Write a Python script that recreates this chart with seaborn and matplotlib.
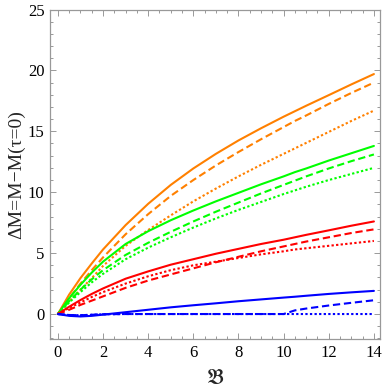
import numpy as np
import pandas as pd
import matplotlib
matplotlib.use("Agg")
import matplotlib.pyplot as plt
import seaborn as sns
from matplotlib.ticker import MultipleLocator

# data
b_vals = [0, 0.5, 1, 1.5, 2, 3, 4, 5, 6, 7, 8, 9, 10, 10.5, 11, 12, 13, 14]

orange_solid  = [0, 1.6, 2.95, 4.15, 5.3, 7.3, 9.05, 10.6, 11.95, 13.15, 14.25, 15.25, 16.2, 16.65, 17.1, 17.97, 18.85, 19.7]
orange_dashed = [0, 1.3, 2.5, 3.6, 4.65, 6.55, 8.2, 9.7, 11.0, 12.2, 13.3, 14.35, 15.35, 15.85, 16.3, 17.25, 18.15, 19.0]
orange_dotted = [0, 1.05, 2.0, 2.95, 3.95, 5.6, 6.9, 8.1, 9.25, 10.3, 11.3, 12.25, 13.15, 13.6, 14.05, 14.95, 15.85, 16.7]
green_solid   = [0, 1.3, 2.4, 3.4, 4.3, 5.75, 6.8, 7.7, 8.5, 9.25, 9.95, 10.65, 11.3, 11.65, 11.95, 12.6, 13.2, 13.8]
green_dashed  = [0, 1.05, 2.0, 2.85, 3.6, 4.85, 5.85, 6.75, 7.6, 8.4, 9.15, 9.9, 10.6, 10.95, 11.3, 11.95, 12.55, 13.1]
green_dotted  = [0, 0.95, 1.8, 2.6, 3.3, 4.5, 5.45, 6.3, 7.1, 7.85, 8.55, 9.2, 9.85, 10.15, 10.45, 11.0, 11.5, 12.0]
red_solid     = [0, 0.6, 1.15, 1.65, 2.1, 2.9, 3.5, 4.05, 4.5, 4.95, 5.35, 5.75, 6.1, 6.3, 6.5, 6.87, 7.25, 7.6]
red_dashed    = [0, 0.35, 0.75, 1.1, 1.45, 2.15, 2.75, 3.25, 3.75, 4.25, 4.7, 5.15, 5.55, 5.75, 5.95, 6.3, 6.65, 6.95]
red_dotted    = [0, 0.5, 0.95, 1.4, 1.8, 2.5, 3.1, 3.6, 4.0, 4.3, 4.6, 4.9, 5.15, 5.3, 5.4, 5.6, 5.8, 6.0]
blue_solid    = [0, -0.15, -0.2, -0.15, -0.05, 0.15, 0.35, 0.55, 0.72, 0.88, 1.05, 1.2, 1.35, 1.42, 1.5, 1.65, 1.78, 1.9]
blue_dashed   = [0, -0.08, -0.1, -0.06, -0.02, 0, 0, 0, 0, 0, 0, 0, 0, 0.3, 0.45, 0.7, 0.92, 1.13]
blue_dotted   = [0, -0.08, -0.1, -0.06, -0.02, 0, 0, 0, 0, 0, 0, 0, 0, 0, 0, 0, 0, 0]

ORANGE, GREEN, RED, BLUE = "#FF8000", "#00FF00", "#FF0000", "#0000FF"
SOLID, DASHED, DOTTED = "-", (0, (3.5, 1.8)), (0, (1.1, 1.1))

curves = [
    (orange_solid, ORANGE, SOLID), (orange_dashed, ORANGE, DASHED), (orange_dotted, ORANGE, DOTTED),
    (green_solid, GREEN, SOLID), (green_dashed, GREEN, DASHED), (green_dotted, GREEN, DOTTED),
    (red_solid, RED, SOLID), (red_dashed, RED, DASHED), (red_dotted, RED, DOTTED),
    (blue_solid, BLUE, SOLID), (blue_dashed, BLUE, DASHED), (blue_dotted, BLUE, DOTTED),
]

sns.set_style("ticks")
plt.rcParams["font.family"] = ["Liberation Serif", "DejaVu Serif"]
plt.rcParams["mathtext.fontset"] = "stix"

fig = plt.figure(figsize=(3.82, 3.91), dpi=100)
ax = fig.add_axes([50 / 382, 52 / 391, 330 / 382, 329.5 / 391])

for vals, col, ls in curves:
    sns.lineplot(x=b_vals, y=vals, color=col, linestyle=ls, linewidth=1.5,
                 errorbar=None, ax=ax)

ax.set_xlim(-0.35, 14.27)
ax.set_ylim(-2.05, 25)
ax.xaxis.set_major_locator(MultipleLocator(2))
ax.xaxis.set_minor_locator(MultipleLocator(0.5))
ax.yaxis.set_major_locator(MultipleLocator(5))
ax.yaxis.set_minor_locator(MultipleLocator(1))

frame_col = "#999999"
for sp in ax.spines.values():
    sp.set_color(frame_col)
    sp.set_linewidth(0.9)
ax.tick_params(which="both", direction="in", top=True, right=True,
               color=frame_col, width=0.7, labelsize=12, labelcolor="black")
ax.tick_params(which="major", length=4.5, pad=4)
ax.tick_params(which="minor", length=2.5)

ax.set_xlabel(r"$\mathfrak{B}$", fontsize=15, labelpad=7)
ax.set_ylabel("ΔM=M−M(τ=0)", fontsize=14, labelpad=2)

fig.savefig("out.png", dpi=100)
